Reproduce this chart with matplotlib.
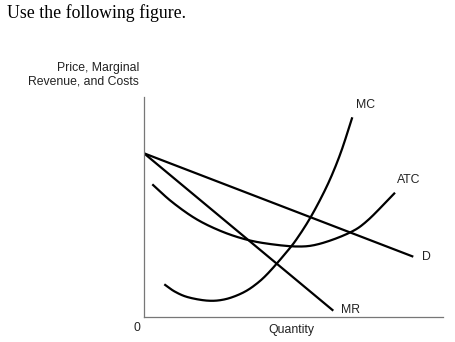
import numpy as np
import matplotlib
matplotlib.use("Agg")
import matplotlib.pyplot as plt

# Data (quantity, price)
mc_x = [20.3, 31, 44.3, 64.3, 81, 97.7, 111, 124.3, 144.3, 154.3, 166, 177.7, 187.7, 197.7, 208.3]
mc_y = [32.7, 25.3, 19.7, 16.3, 17.7, 23.7, 32, 44, 67, 80.3, 98.7, 120.3, 141.5, 167, 199.7]
atc_x = [8.3, 27.7, 51, 74.3, 97.7, 121, 152.7, 175, 204.3, 223, 251]
atc_y = [132.7, 115.3, 98.7, 87, 78.7, 73.7, 70.5, 73, 83.7, 96, 124.3]
d_x = [0, 269.3]
d_y = [163.7, 60.3]
mr_x = [0, 189.3]
mr_y = [163.7, 6.3]

W, H = 456, 342


def smooth(xs, ys, n=20):
    p = np.column_stack([xs, ys]).astype(float)
    p = np.vstack([2 * p[0] - p[1], p, 2 * p[-1] - p[-2]])
    out = []
    t = np.linspace(0, 1, n, endpoint=False)[:, None]
    for i in range(1, len(p) - 2):
        p0, p1, p2, p3 = p[i - 1], p[i], p[i + 1], p[i + 2]
        seg = 0.5 * ((2 * p1) + (-p0 + p2) * t + (2 * p0 - 5 * p1 + 4 * p2 - p3) * t ** 2
                     + (-p0 + 3 * p1 - 3 * p2 + p3) * t ** 3)
        out.append(seg)
    out.append(p[-2][None, :])
    out = np.vstack(out)
    return out[:, 0], out[:, 1]


fig = plt.figure(figsize=(W / 100, H / 100), dpi=100)
x0, y0 = 144, 317
ax = fig.add_axes([x0 / W, (H - y0) / H, 298.7 / W, 220 / H])
ax.set_xlim(0, 298.7)
ax.set_ylim(0, 220)
ax.set_xticks([])
ax.set_yticks([])
for s in ["top", "right"]:
    ax.spines[s].set_visible(False)
for s in ["left", "bottom"]:
    ax.spines[s].set_color("#777777")
    ax.spines[s].set_linewidth(0.9)

lw = 1.6
sx, sy = smooth(mc_x, mc_y)
ax.plot(sx, sy, color="black", lw=lw, solid_capstyle="butt")
sx, sy = smooth(atc_x, atc_y)
ax.plot(sx, sy, color="black", lw=lw, solid_capstyle="butt")
ax.plot(d_x, d_y, color="black", lw=lw, solid_capstyle="butt")
ax.plot(mr_x, mr_y, color="black", lw=lw, solid_capstyle="butt")

tc = "#222222"
sans = "Liberation Sans"


def ftxt(px, py, s, **kw):
    fig.text(px / W, 1 - py / H, s, **kw)


ftxt(7, 18, "Use the following figure.", family="Liberation Serif", fontsize=12.75,
     color="black", ha="left", va="baseline")
ftxt(139, 68, "Price, Marginal", family=sans, fontsize=8.8, color=tc, ha="right", va="center")
ftxt(139, 81, "Revenue, and Costs", family=sans, fontsize=8.8, color=tc, ha="right", va="center")
ftxt(136.5, 328, "0", family=sans, fontsize=8.8, color=tc, ha="center", va="center")
ftxt(291, 330, "Quantity", family=sans, fontsize=8.8, color=tc, ha="center", va="center")
ftxt(366, 105, "MC", family=sans, fontsize=8.8, color=tc, ha="center", va="center")
ftxt(409, 180, "ATC", family=sans, fontsize=8.8, color=tc, ha="center", va="center")
ftxt(426, 257, "D", family=sans, fontsize=8.8, color=tc, ha="center", va="center")
ftxt(350.5, 310, "MR", family=sans, fontsize=8.8, color=tc, ha="center", va="center")

fig.savefig("out.png", dpi=100, facecolor="white")
